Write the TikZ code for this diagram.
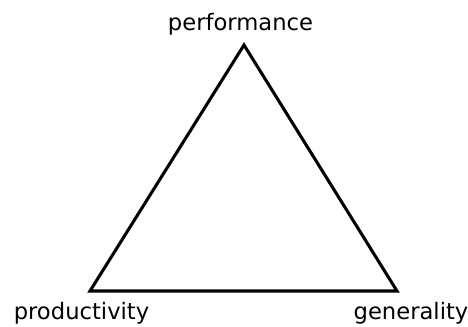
\documentclass[tikz,border=0pt]{standalone}
\usepackage{fontspec}
\setmainfont{DejaVu Sans}
\begin{document}
\begin{tikzpicture}[x=0.75pt,y=0.75pt,
  lbl/.style={anchor=base,inner sep=0pt,font=\fontsize{17}{20}\selectfont},
  tri/.style={draw=black,line width=2.3pt,line join=miter}]
\useasboundingbox (0,0) rectangle (468,326);
\coordinate (top) at (244,281);
\coordinate (bl) at (90,35);
\coordinate (br) at (397,35);
\draw[tri] (top) -- (bl) -- (br) -- cycle;
\node[lbl] (perf) at (240.5,296) {performance};
\node[lbl] (prod) at (81.5,7) {productivity};
\node[lbl] (gen) at (411,6.5) {generality};
\end{tikzpicture}
\end{document}
